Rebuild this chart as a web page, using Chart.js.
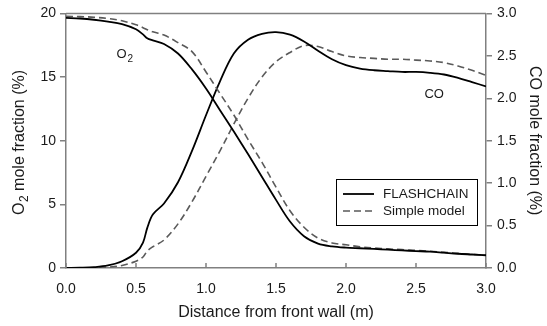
<!DOCTYPE html>
<html>
<head>
<meta charset="utf-8">
<script src="https://cdn.jsdelivr.net/npm/chart.js@4.4.1/dist/chart.umd.min.js"></script>
<style>
  html, body { margin: 0; padding: 0; background: #fff; }
  #wrap { width: 547px; height: 326px; }
</style>
</head>
<body>
<div id="wrap"><canvas id="grafico"></canvas></div>
<script>
// Perfis de O2 e CO ao longo da fornalha

const distancia = [0.0, 0.1, 0.2, 0.3, 0.4, 0.5, 0.55, 0.58, 0.62, 0.7, 0.8, 0.9, 1.0, 1.1, 1.2, 1.3, 1.4, 1.5,
  1.6, 1.7, 1.8, 1.9, 2.0, 2.1, 2.2, 2.3, 2.4, 2.5, 2.6, 2.7, 2.8, 2.9, 3.0];

const o2Flash = [19.65, 19.6, 19.5, 19.35, 19.15, 18.75, 18.35, 18.05, 17.88, 17.6, 16.85, 15.6, 14.1, 12.4, 10.7, 8.95, 7.15, 5.35,
  3.65, 2.5, 1.92, 1.7, 1.6, 1.55, 1.5, 1.44, 1.38, 1.33, 1.28, 1.2, 1.12, 1.06, 1.0];
const o2Simples = [19.77, 19.75, 19.7, 19.6, 19.42, 19.1, 18.88, 18.72, 18.55, 18.3, 17.7, 17.0, 15.4, 13.7, 12.0, 10.1, 8.3, 6.35,
  4.5, 3.2, 2.35, 1.97, 1.82, 1.67, 1.57, 1.5, 1.44, 1.38, 1.31, 1.23, 1.15, 1.07, 1.0];

const coFlash = [0.0, 0.003, 0.01, 0.03, 0.08, 0.18, 0.3, 0.47, 0.63, 0.76, 1.01, 1.38, 1.8, 2.2, 2.53, 2.69, 2.76, 2.78,
  2.75, 2.67, 2.56, 2.46, 2.39, 2.35, 2.33, 2.32, 2.31, 2.31, 2.3, 2.28, 2.24, 2.19, 2.14];
const coSimples = [0.0, 0.0, 0.002, 0.01, 0.03, 0.08, 0.13, 0.2, 0.25, 0.33, 0.52, 0.78, 1.08, 1.38, 1.7, 2.0, 2.25, 2.43,
  2.54, 2.62, 2.61, 2.55, 2.5, 2.48, 2.47, 2.46, 2.46, 2.45, 2.44, 2.42, 2.38, 2.33, 2.27];

const ticksX = [0, 0.5, 1.0, 1.5, 2.0, 2.5, 3.0];
const rotulos = ['FLASHCHAIN', 'Simple model'];

const FONTE = "'Liberation Sans', Arial, sans-serif";
const CINZA = '#808080';
const COR_SIMPLES = '#5a5a5a';

const pontos = ys => distancia.map((x, i) => ({ x, y: ys[i] }));

// Linha base das séries
const serie = (label, ys, eixo, tracejado) => ({
  label,
  data: pontos(ys),
  yAxisID: eixo,
  showLine: true,
  borderColor: tracejado ? COR_SIMPLES : '#000',
  borderWidth: tracejado ? 1.6 : 1.8,
  borderDash: tracejado ? [7, 4] : [],
  pointRadius: 0,
  tension: 0.35,
  fill: false
});

// Desenha o que o Chart.js não faz sozinho: ticks internos, borda, títulos, legenda
const extras = {
  id: 'extras',
  afterDraw(chart) {
    const { ctx, chartArea: a, scales } = chart;
    const sx = scales.x, sy = scales.y, sy1 = scales.y1;
    ctx.save();

    // borda superior
    ctx.strokeStyle = CINZA;
    ctx.lineWidth = 1.5;
    ctx.beginPath();
    ctx.moveTo(a.left, a.top);
    ctx.lineTo(a.right, a.top);
    ctx.stroke();

    // ticks do eixo x para dentro
    ctx.beginPath();
    ticksX.forEach(v => {
      const px = sx.getPixelForValue(v);
      ctx.moveTo(px, a.bottom);
      ctx.lineTo(px, a.bottom - 5);
    });
    ctx.stroke();

    ctx.fillStyle = '#1a1a1a';

    // título eixo x
    ctx.font = `16px ${FONTE}`;
    ctx.textAlign = 'center';
    ctx.textBaseline = 'middle';
    ctx.fillText('Distance from front wall (m)', (a.left + a.right) / 2, 313);

    // título eixo y esquerdo com subscrito
    const meioY = (a.top + a.bottom) / 2;
    ctx.save();
    ctx.translate(20, meioY + 2);
    ctx.rotate(-Math.PI / 2);
    ctx.textAlign = 'left';
    ctx.textBaseline = 'middle';
    ctx.font = `16px ${FONTE}`;
    const wO = ctx.measureText('O').width;
    ctx.font = `12px ${FONTE}`;
    const w2 = ctx.measureText('2').width;
    ctx.font = `16px ${FONTE}`;
    const resto = ' mole fraction (%)';
    const wR = ctx.measureText(resto).width;
    let x0 = -(wO + w2 + wR) / 2;
    ctx.fillText('O', x0, 0);
    ctx.font = `12px ${FONTE}`;
    ctx.fillText('2', x0 + wO + 0.5, 5);
    ctx.font = `16px ${FONTE}`;
    ctx.fillText(resto, x0 + wO + w2 + 0.5, 0);
    ctx.restore();

    // título eixo y direito
    ctx.save();
    ctx.translate(534, meioY);
    ctx.rotate(Math.PI / 2);
    ctx.textAlign = 'center';
    ctx.textBaseline = 'middle';
    ctx.font = `16px ${FONTE}`;
    ctx.fillText('CO mole fraction (%)', 0, 0);
    ctx.restore();

    // rótulos das curvas
    ctx.font = `13px ${FONTE}`;
    ctx.textAlign = 'left';
    ctx.textBaseline = 'middle';
    const oX = sx.getPixelForValue(0.36), oY = sy.getPixelForValue(16.8);
    ctx.fillText('O', oX, oY);
    const wo = ctx.measureText('O').width;
    ctx.font = `10px ${FONTE}`;
    ctx.fillText('2', oX + wo + 1, oY + 5);
    ctx.font = `13px ${FONTE}`;
    ctx.textAlign = 'center';
    ctx.fillText('CO', sx.getPixelForValue(2.63), sy1.getPixelForValue(2.04));

    // legenda
    const lx = 336, ly = 179, lw = 141, lh = 46;
    ctx.strokeStyle = '#000';
    ctx.lineWidth = 1;
    ctx.fillStyle = '#fff';
    ctx.fillRect(lx, ly, lw, lh);
    ctx.strokeRect(lx + 0.5, ly + 0.5, lw, lh);
    const ds = chart.data.datasets;
    [ds[0], ds[1]].forEach((d, i) => {
      const yy = ly + 15 + i * 17;
      ctx.strokeStyle = d.borderColor;
      ctx.lineWidth = d.borderWidth;
      ctx.setLineDash(d.borderDash);
      ctx.beginPath();
      ctx.moveTo(lx + 7, yy);
      ctx.lineTo(lx + 38, yy);
      ctx.stroke();
      ctx.setLineDash([]);
      ctx.fillStyle = '#1a1a1a';
      ctx.font = `13.5px ${FONTE}`;
      ctx.textAlign = 'left';
      ctx.fillText(rotulos[i], lx + 47, yy);
    });

    ctx.restore();
  }
};

new Chart(document.getElementById('grafico'), {
  type: 'scatter',
  data: {
    datasets: [
      serie('FLASHCHAIN', o2Flash, 'y', false),
      serie('Simple model', o2Simples, 'y', true),
      serie('FLASHCHAIN CO', coFlash, 'y1', false),
      serie('Simple model CO', coSimples, 'y1', true)
    ]
  },
  options: {
    responsive: true,
    maintainAspectRatio: false,
    animation: false,
    layout: { padding: { top: 12, left: 0, right: 0, bottom: 0 } },
    plugins: { legend: { display: false }, tooltip: { enabled: false } },
    scales: {
      x: {
        type: 'linear', min: 0, max: 3,
        afterFit: s => { s.height = 58; },
        afterBuildTicks: s => { s.ticks = ticksX.map(v => ({ value: v })); },
        ticks: { color: '#1a1a1a', font: { family: FONTE, size: 14 }, padding: 5, callback: v => v.toFixed(1) },
        grid: { display: false },
        border: { color: CINZA, width: 1.5 }
      },
      y: {
        position: 'left', min: 0, max: 20,
        afterFit: s => { s.width = 66; },
        ticks: { stepSize: 5, color: '#1a1a1a', font: { family: FONTE, size: 14 }, padding: 4 },
        grid: { drawOnChartArea: false, tickLength: 6, color: CINZA, lineWidth: 1.5 },
        border: { color: CINZA, width: 1.5 }
      },
      y1: {
        position: 'right', min: 0, max: 3,
        afterFit: s => { s.width = 61; },
        ticks: { stepSize: 0.5, color: '#1a1a1a', font: { family: FONTE, size: 14 }, padding: 5, callback: v => v.toFixed(1) },
        grid: { drawOnChartArea: false, tickLength: 6, color: CINZA, lineWidth: 1.5 },
        border: { color: CINZA, width: 1.5 }
      }
    }
  },
  plugins: [extras]
});
</script>
</body>
</html>
